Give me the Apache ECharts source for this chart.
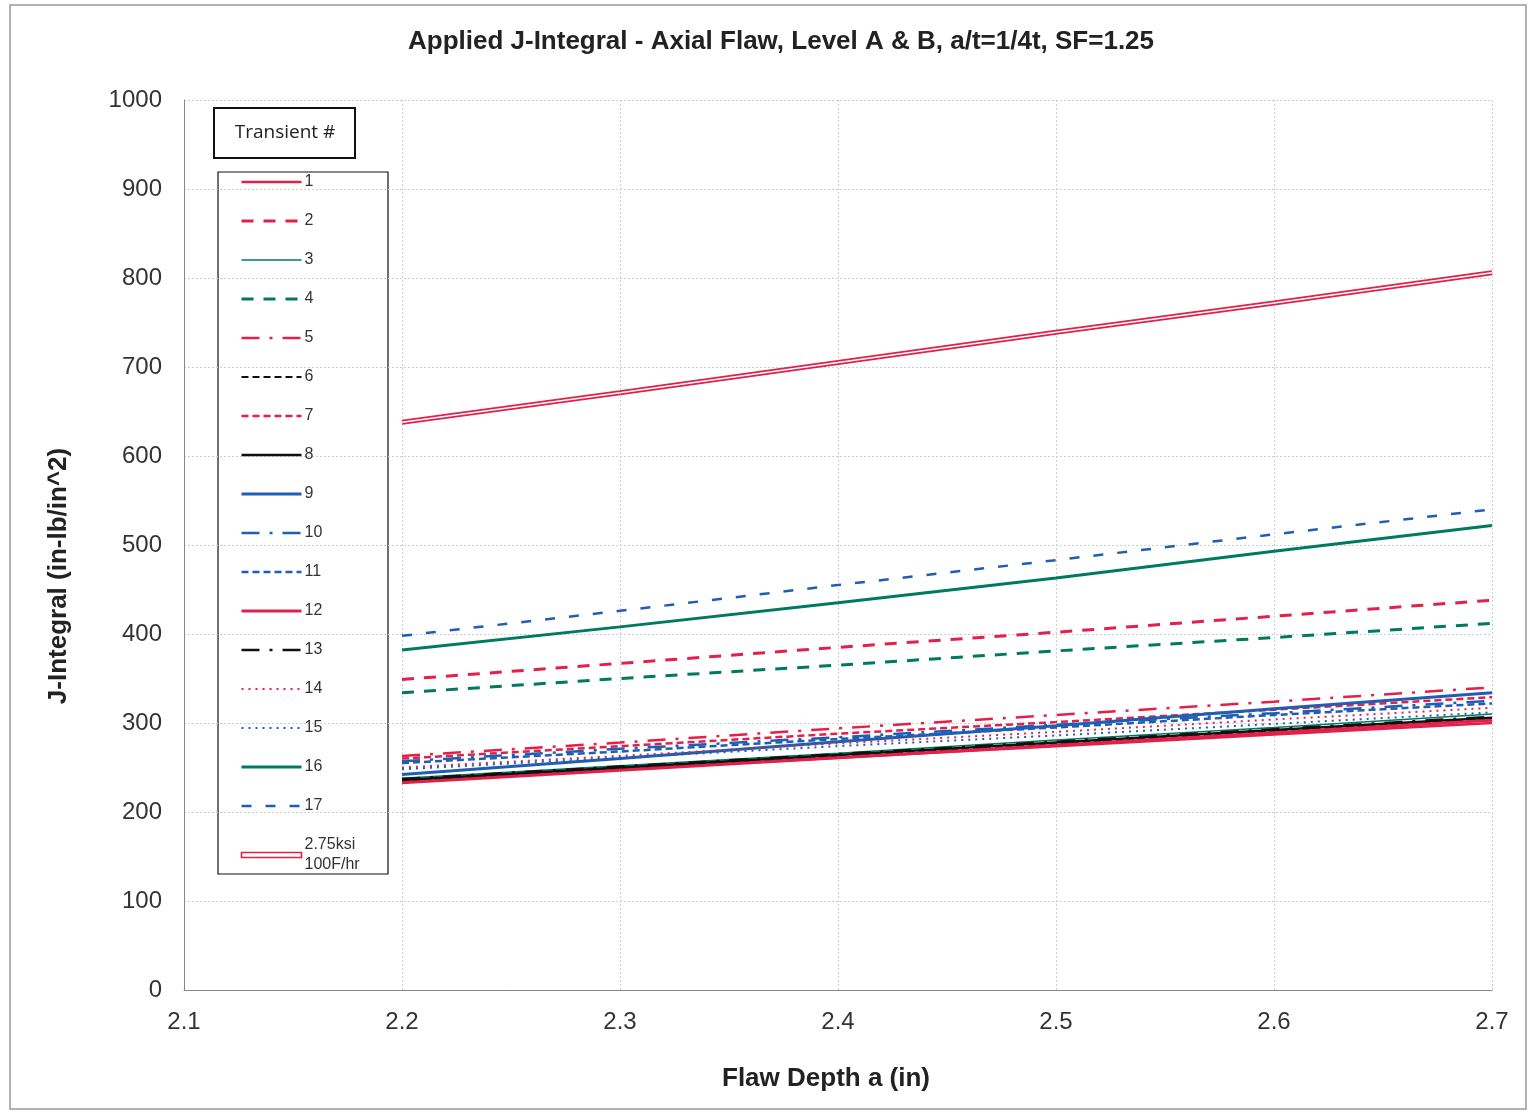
<!DOCTYPE html>
<html><head><meta charset="utf-8">
<script src="https://cdn.jsdelivr.net/npm/echarts@6/dist/echarts.min.js"></script>
<style>html,body{margin:0;padding:0;background:#fff}#c{width:1531px;height:1113px}</style>
</head><body><div id="c"></div>
<script>
const xValues = [2.2, 2.3, 2.4, 2.5, 2.6, 2.7];
const seriesNames = ['1','2','3','4','5','6','7','8','9','10','11','12','13','14','15','16','17','2.75ksi\n100F/hr'];
const s1  = [235, 248, 261, 274, 287, 300];
const s2  = [349, 367, 385, 402, 420, 438];
const s3  = [238, 252, 266, 281, 295, 310];
const s4  = [334, 350, 365, 381, 396, 412];
const s5  = [263, 278, 294, 309, 324, 340];
const s6  = [234, 248, 262, 277, 291, 305];
const s7  = [260, 274, 288, 301, 315, 329];
const s8  = [236, 250, 264, 278, 292, 306];
const s9  = [242, 260, 279, 297, 316, 334];
const s10 = [257, 271, 284, 298, 311, 325];
const s11 = [255, 268, 282, 295, 309, 322];
const s12 = [233, 247, 261, 275, 289, 303];
const s13 = [237, 251, 265, 279, 293, 307];
const s14 = [250, 263, 277, 290, 304, 317];
const s15 = [248, 261, 274, 286, 299, 312];
const s16 = [382, 408, 435, 463, 493, 522];
const s17 = [398, 426, 455, 483, 512, 540];
const sKsi = [638, 671, 705, 739, 772, 806];
const values = [s1,s2,s3,s4,s5,s6,s7,s8,s9,s10,s11,s12,s13,s14,s15,s16,s17,sKsi];
const yTicks = {min: 0, max: 1000, interval: 100};
const xTicks = {min: 2.1, max: 2.7, interval: 0.1};

const RED = '#E2204A', BLUE = '#1E5FB3', GREEN = '#007A5E', BLACK = '#111111';
const styles = [
  {color: RED, width: 2.5, type: 'solid'},
  {color: RED, width: 3, type: [12, 10]},
  {color: GREEN, width: 1.5, type: 'solid'},
  {color: GREEN, width: 3, type: [12, 10]},
  {color: RED, width: 2.5, type: [18, 10, 3, 10]},
  {color: BLACK, width: 2, type: [7, 4]},
  {color: RED, width: 2.5, type: [7, 4]},
  {color: BLACK, width: 2.5, type: 'solid'},
  {color: BLUE, width: 3, type: 'solid'},
  {color: BLUE, width: 2.5, type: [18, 10, 3, 10]},
  {color: BLUE, width: 2.5, type: [7, 4]},
  {color: RED, width: 3, type: 'solid'},
  {color: BLACK, width: 2.5, type: [18, 10, 3, 10]},
  {color: RED, width: 2, type: [2, 5]},
  {color: BLUE, width: 2, type: [2, 5]},
  {color: GREEN, width: 3, type: 'solid'},
  {color: BLUE, width: 2.5, type: [10, 14]},
  {color: RED, width: 5, type: 'solid'}
];

const series = seriesNames.map((n, i) => ({
  name: n, type: 'line', symbol: 'circle', symbolSize: 0, showSymbol: false, animation: false,
  data: xValues.map((x, j) => [x, values[i][j]]),
  lineStyle: {color: styles[i].color, width: styles[i].width, type: styles[i].type},
  itemStyle: {color: styles[i].color},
  z: 2 + (i === 17 ? 1 : 0)
}));
series.push({
  name: 'ksiInner', type: 'line', symbol: 'none', showSymbol: false, animation: false, silent: true,
  data: xValues.map((x, j) => [x, sKsi[j]]),
  lineStyle: {color: '#ffffff', width: 1.5}, z: 4
});

const legendData = seriesNames.map((n, i) => i === 17
  ? {name: n, icon: 'path://M0,0H60V5H0Z', itemStyle: {opacity: 1, color: '#ffffff', borderColor: RED, borderWidth: 1.6}}
  : n);

const chart = echarts.init(document.getElementById('c'));
const font = '"Liberation Sans", Arial, sans-serif';
chart.setOption({
  animation: false,
  backgroundColor: '#fff',
  title: {
    text: 'Applied J-Integral - Axial Flaw, Level A & B, a/t=1/4t, SF=1.25',
    left: 776, top: 24, textAlign: 'center',
    textStyle: {fontFamily: font, fontSize: 26, fontWeight: 'bold', color: '#222'}
  },
  grid: {left: 184, right: 39, top: 100, bottom: 123, containLabel: false},
  xAxis: {
    type: 'value', min: xTicks.min, max: xTicks.max, interval: xTicks.interval,
    name: 'Flaw Depth a (in)', nameLocation: 'middle', nameGap: 76,
    nameTextStyle: {fontFamily: font, fontSize: 26, fontWeight: 'bold', color: '#222', padding: [0, 24, 0, 0]},
    axisLine: {show: true, lineStyle: {color: '#888', width: 1}},
    axisTick: {show: false},
    axisLabel: {fontFamily: font, fontSize: 24, color: '#333', margin: 20,
      formatter: v => v.toFixed(1)},
    splitLine: {show: true, lineStyle: {color: '#c8d0d8', type: [2, 2], width: 1}}
  },
  yAxis: {
    type: 'value', min: yTicks.min, max: yTicks.max, interval: yTicks.interval,
    name: 'J-Integral (in-lb/in^2)', nameLocation: 'middle', nameGap: 112,
    nameTextStyle: {fontFamily: font, fontSize: 26, fontWeight: 'bold', color: '#222', padding: [0, 62, 0, 0]},
    axisLine: {show: true, lineStyle: {color: '#888', width: 1}},
    axisTick: {show: false},
    axisLabel: {fontFamily: font, fontSize: 24, color: '#333', margin: 22, formatter: v => String(v)},
    splitLine: {show: true, lineStyle: {color: '#c8d0d8', type: [2, 2], width: 1}}
  },
  legend: {
    orient: 'vertical', left: 240, top: 172, padding: 0,
    itemWidth: 60, itemHeight: 14, itemGap: 19,
    data: legendData,
    itemStyle: {opacity: 0},
    lineStyle: {width: 'inherit'},
    textStyle: {fontFamily: font, fontSize: 16, color: '#333', lineHeight: 20, padding: [0, 0, 0, -2]},
    selectedMode: false
  },
  graphic: [
    {type: 'rect', shape: {x: 10, y: 5, width: 1516, height: 1104}, style: {fill: 'none', stroke: '#999', lineWidth: 1.5}, silent: true, z: -1},
    {type: 'rect', shape: {x: 214, y: 108, width: 141, height: 50}, style: {fill: '#fff', stroke: '#111', lineWidth: 2}, z: 10},
    {type: 'text', x: 285, y: 133, style: {text: 'Transient #', fontFamily: '"Open Sans", "Liberation Sans", sans-serif', fontSize: 19, fill: '#222', align: 'center', verticalAlign: 'middle'}, z: 11},
    {type: 'rect', shape: {x: 218, y: 172, width: 170, height: 702}, style: {fill: '#fff', stroke: '#111', lineWidth: 1.2}, z: 0, silent: true}
  ],
  series: series
});
</script></body></html>
